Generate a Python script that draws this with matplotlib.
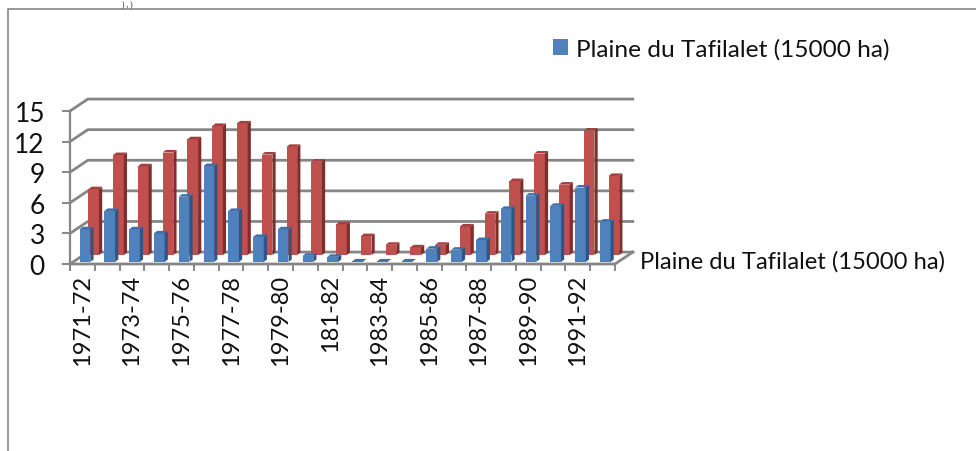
import matplotlib
matplotlib.use('Agg')
import matplotlib.pyplot as plt
from matplotlib.patches import Polygon

plt.rcParams['font.family'] = ['Lato', 'DejaVu Sans']

campagnes = ['1971-72', '1972-73', '1973-74', '1974-75', '1975-76', '1976-77', '1977-78', '1978-79',
             '1979-80', '1980-81', '181-82', '1982-83', '1983-84', '1984-85', '1985-86', '1986-87',
             '1987-88', '1988-89', '1989-90', '1990-91', '1991-92', '1992-93']
bleu = [3.2, 5.0, 3.2, 2.8, 6.4, 9.4, 5.0, 2.45, 3.2, 0.6, 0.5,
        0.05, 0.05, 0.05, 1.3, 1.2, 2.15, 5.2, 6.5, 5.5, 7.3, 3.95]
rouge = [6.45, 9.8, 8.7, 10.05, 11.35, 12.65, 12.9, 9.85, 10.6, 9.15, 3.0,
         1.85, 1.0, 0.75, 1.0, 2.8, 4.05, 7.25, 9.95, 6.9, 12.2, 7.75]
graduations = [0, 3, 6, 9, 12, 15]
legende = 'Plaine du Tafilalet (15000 ha)'

W, H = 976, 452
GRIS = '#868686'

fig = plt.figure(figsize=(W / 100, H / 100), dpi=100)
ax = fig.add_axes([70 / W, (H - 265) / H, 545 / W, 153 / H])
ax.set_xlim(0, 22)
ax.set_ylim(0, 15)
ax.patch.set_visible(False)

# depth of the fake 3d box, in data units
dx, dy = 0.72, 1.17

for s in ['top', 'right', 'bottom']:
    ax.spines[s].set_visible(False)
ax.spines['left'].set_color(GRIS)
ax.spines['left'].set_linewidth(1.6)

for v in graduations:
    ax.plot([0, dx, 22 + dx], [v, v + dy, v + dy], color=GRIS, lw=2.0, clip_on=False, zorder=1,
            solid_joinstyle='miter')
ax.plot([0, 22, 22 + dx], [0, 0, dy], color=GRIS, lw=2.0, clip_on=False, zorder=6, solid_joinstyle='miter')


def barres(valeurs, decal, base, face, dessus, cote, z):
    larg = 0.43
    pos = [i + decal for i in range(len(valeurs))]
    rects = ax.bar(pos, valeurs, larg, bottom=base, align='edge', color=face, zorder=z, clip_on=False)
    px, py = 0.13, 0.25
    for x, v in zip(pos, valeurs):
        top = base + v
        ax.add_patch(Polygon([(x + larg, base), (x + larg + px, base + py), (x + larg + px, top + py), (x + larg, top)],
                             closed=True, fc=cote, ec='none', zorder=z, clip_on=False))
        ax.add_patch(Polygon([(x, top), (x + px, top + py), (x + larg + px, top + py), (x + larg, top)],
                             closed=True, fc=dessus, ec='none', zorder=z, clip_on=False))
    return rects


barres(rouge, 0.74, 0.88, '#c0504d', '#a33f3c', '#7f2e2c', 3)
bars = barres(bleu, 0.39, 0.2, '#4f81bd', '#3f6fa8', '#2f5583', 4)

ax.set_yticks(graduations)
ax.set_xticks(range(23))
ax.set_xticklabels([])
ax.set_xticks([i + 0.5 for i in range(0, 22, 2)], minor=True)
ax.set_xticklabels(campagnes[::2], minor=True, rotation=90, fontsize=17, color='#111111')
ax.tick_params(axis='x', which='major', length=5, width=1.4, color=GRIS)
ax.tick_params(axis='x', which='minor', length=0, pad=7)
ax.tick_params(axis='y', length=6, width=1.4, color=GRIS, labelsize=19, pad=12, labelcolor='#111111')

ax.legend([bars], [legende], loc='center left', bbox_to_anchor=(553 / W, 1 - 49.5 / H),
          bbox_transform=fig.transFigure, frameon=False, fontsize=17.6, handlelength=0.62, handleheight=0.62,
          handletextpad=0.33, borderpad=0, borderaxespad=0, labelcolor='#111111')

fig.text(640 / W, 1 - 262 / H, legende, fontsize=17.1, va='center', ha='left', color='#111111')

# frame of the pasted chart, open on the right and bottom
fig.add_artist(plt.Line2D([8 / W, 8 / W, 1], [0, 1 - 10 / H, 1 - 10 / H], color=GRIS, lw=1.2))
fig.text(127 / W, 1 - 1 / H, ') , )', family='Liberation Serif', fontsize=5.5, va='top', ha='center', color='#111111')

fig.savefig('out.png', dpi=100)
